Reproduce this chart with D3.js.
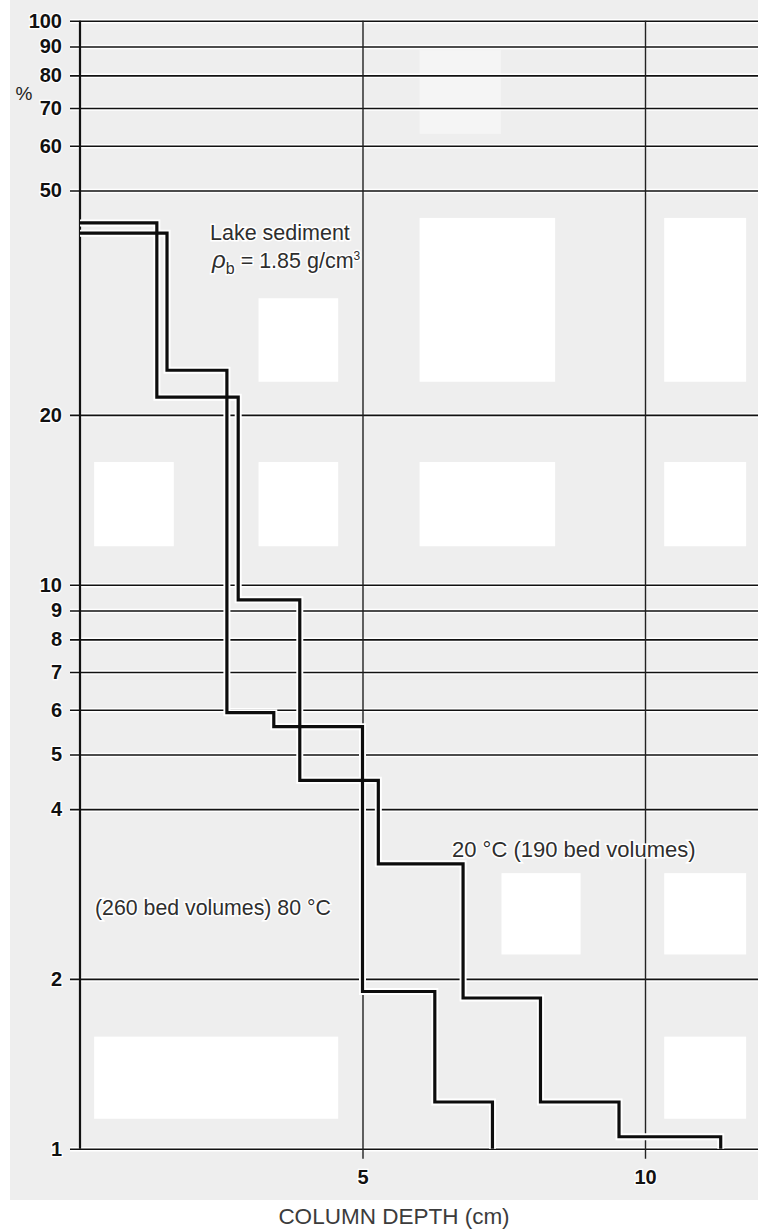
<!DOCTYPE html>
<html>
<head>
<meta charset="utf-8">
<script src="https://cdn.jsdelivr.net/npm/d3@7"></script>
<style>
  html, body { margin: 0; padding: 0; background: #fff; }
  svg { display: block; }
</style>
</head>
<body>
<div id="chart"></div>
<script>
// ---- data ----
const yTicks = [1, 2, 4, 5, 6, 7, 8, 9, 10, 20, 50, 60, 70, 80, 90, 100];
const xTicks = [5, 10];

// 20 °C (190 bed volumes): step edges (cm) and % retained in each step
const depth20 = [0, 1.36, 2.80, 3.89, 5.28, 6.78, 8.15, 9.54, 11.34];
const pct20 = [43.8, 21.5, 9.4, 4.5, 3.2, 1.85, 1.21, 1.05];

// 80 °C (260 bed volumes)
const depth80 = [0, 1.54, 2.60, 3.43, 5.00, 6.28, 7.30];
const pct80 = [42.0, 24.0, 5.93, 5.60, 1.9, 1.21];

// blank patches of the scanned paper, in chart units [x0, x1, y0, y1]
const patches = [
  [3.16, 4.57, 22.9, 32.2], [6.01, 8.41, 22.9, 44.7], [10.34, 11.79, 22.9, 44.7],
  [0.25, 1.66, 11.7, 16.5], [3.16, 4.57, 11.7, 16.5], [6.01, 8.41, 11.7, 16.5],
  [10.34, 11.79, 11.7, 16.5], [7.46, 8.86, 2.21, 3.08], [10.34, 11.79, 2.21, 3.08],
  [0.25, 4.57, 1.13, 1.58], [10.34, 11.79, 1.13, 1.58]
];

// ---- layout ----
const W = 758, H = 1229;
const x = d3.scaleLinear().domain([0, 12]).range([80, 758]);
const y = d3.scaleLog().domain([1, 100]).range([1148.7, 20.7]);

const svg = d3.select("#chart").append("svg")
  .attr("width", W).attr("height", H);

// paper
svg.append("rect").attr("x", 10).attr("y", 0)
  .attr("width", W - 10).attr("height", 1200).attr("fill", "#eeeeee");
svg.append("rect")
  .attr("x", x(6.01)).attr("y", y(88.7))
  .attr("width", x(7.45) - x(6.01)).attr("height", y(63) - y(88.7))
  .attr("fill", "#f5f5f5");
svg.selectAll(".patch").data(patches).join("rect")
  .attr("class", "patch")
  .attr("x", d => x(d[0])).attr("y", d => y(d[3]))
  .attr("width", d => x(d[1]) - x(d[0])).attr("height", d => y(d[2]) - y(d[3]))
  .attr("fill", "#fff");

const labelFont = "'Liberation Sans', Arial, sans-serif";

// horizontal grid + y ticks
const yAxis = d3.axisLeft(y)
  .tickValues(yTicks)
  .tickFormat(d3.format("d"))
  .tickSizeInner(-(x(12) - x(0)))
  .tickSizeOuter(0)
  .tickPadding(18);
const yAxisEl = svg.append("g")
  .attr("transform", `translate(${x(0)},0)`)
  .call(yAxis);
yAxisEl.select(".domain").remove();
yAxisEl.selectAll(".tick line").attr("x1", -10);
yAxisEl.selectAll(".tick").insert("line", "line")
  .attr("x1", -10).attr("x2", x(12) - x(0))
  .attr("stroke", "#fff").attr("stroke-width", 4.5);
yAxisEl.selectAll(".tick line:last-of-type")
  .attr("stroke", "#111").attr("stroke-width", 1.6);
yAxisEl.selectAll(".tick text")
  .attr("font-family", labelFont).attr("font-weight", "bold")
  .attr("font-size", 20).attr("fill", "#111")
  .attr("stroke", "#fff").attr("stroke-width", 2.5).attr("paint-order", "stroke");

// vertical grid + x ticks
const xAxis = d3.axisBottom(x)
  .tickValues(xTicks)
  .tickFormat(d3.format("d"))
  .tickSizeInner(-(y(1) - y(100)))
  .tickSizeOuter(0)
  .tickPadding(21);
const xAxisEl = svg.append("g")
  .attr("transform", `translate(0,${y(1)})`)
  .call(xAxis);
xAxisEl.select(".domain").remove();
xAxisEl.selectAll(".tick line")
  .attr("y1", 10)
  .attr("stroke", "#222").attr("stroke-width", 1.4);
xAxisEl.selectAll(".tick text")
  .attr("font-family", labelFont).attr("font-weight", "bold")
  .attr("font-size", 20).attr("fill", "#111")
  .attr("stroke", "#fff").attr("stroke-width", 2.5).attr("paint-order", "stroke");

// left axis line
svg.append("line")
  .attr("x1", x(0)).attr("x2", x(0))
  .attr("y1", y(100)).attr("y2", y(1))
  .attr("stroke", "#111").attr("stroke-width", 2.2);

// step curves
function stepPoints(edges, vals) {
  const pts = vals.map((v, i) => [edges[i], v]);
  const last = edges[edges.length - 1];
  pts.push([last, vals[vals.length - 1]]);
  pts.push([last, 1]);
  return pts;
}
const line = d3.line()
  .x(d => x(d[0])).y(d => y(d[1]))
  .curve(d3.curveStepAfter);

const curves = [stepPoints(depth20, pct20), stepPoints(depth80, pct80)];
svg.selectAll(".halo").data(curves).join("path")
  .attr("class", "halo")
  .attr("d", line).attr("fill", "none")
  .attr("stroke", "#fff").attr("stroke-width", 7);
svg.selectAll(".curve").data(curves).join("path")
  .attr("class", "curve")
  .attr("d", line).attr("fill", "none")
  .attr("stroke", "#0d0d0d").attr("stroke-width", 3.2)
  .attr("stroke-linejoin", "miter");

// text
const noteFont = "'Liberation Sans', Arial, sans-serif";
function note(tx, ty, str, size) {
  return svg.append("text")
    .attr("x", tx).attr("y", ty)
    .attr("font-family", noteFont).attr("font-size", size)
    .attr("fill", "#2e2e2e")
    .attr("stroke", "#fff").attr("stroke-width", 3)
    .attr("paint-order", "stroke")
    .text(str);
}
note(210, 240, "Lake sediment", 21.5);
const rho = note(212, 268, "", 21.5);
rho.append("tspan").attr("font-style", "italic").attr("font-size", 24).text("ρ");
rho.append("tspan").attr("dy", 6).attr("font-size", 16).text("b");
rho.append("tspan").attr("dy", -6).text(" = 1.85 g/cm");
rho.append("tspan").attr("dy", -8).attr("font-size", 12).text("3");

note(452, 857, "20 °C (190 bed volumes)", 22);
note(95, 915, "(260 bed volumes) 80 °C", 21.3);

svg.append("text")
  .attr("x", 24).attr("y", 100)
  .attr("text-anchor", "middle")
  .attr("font-family", labelFont).attr("font-size", 19)
  .attr("fill", "#222")
  .text("%");

svg.append("text")
  .attr("x", 394).attr("y", 1224)
  .attr("text-anchor", "middle")
  .attr("font-family", noteFont).attr("font-size", 22.5)
  .attr("fill", "#3c3c3c")
  .text("COLUMN DEPTH (cm)");
</script>
</body>
</html>
